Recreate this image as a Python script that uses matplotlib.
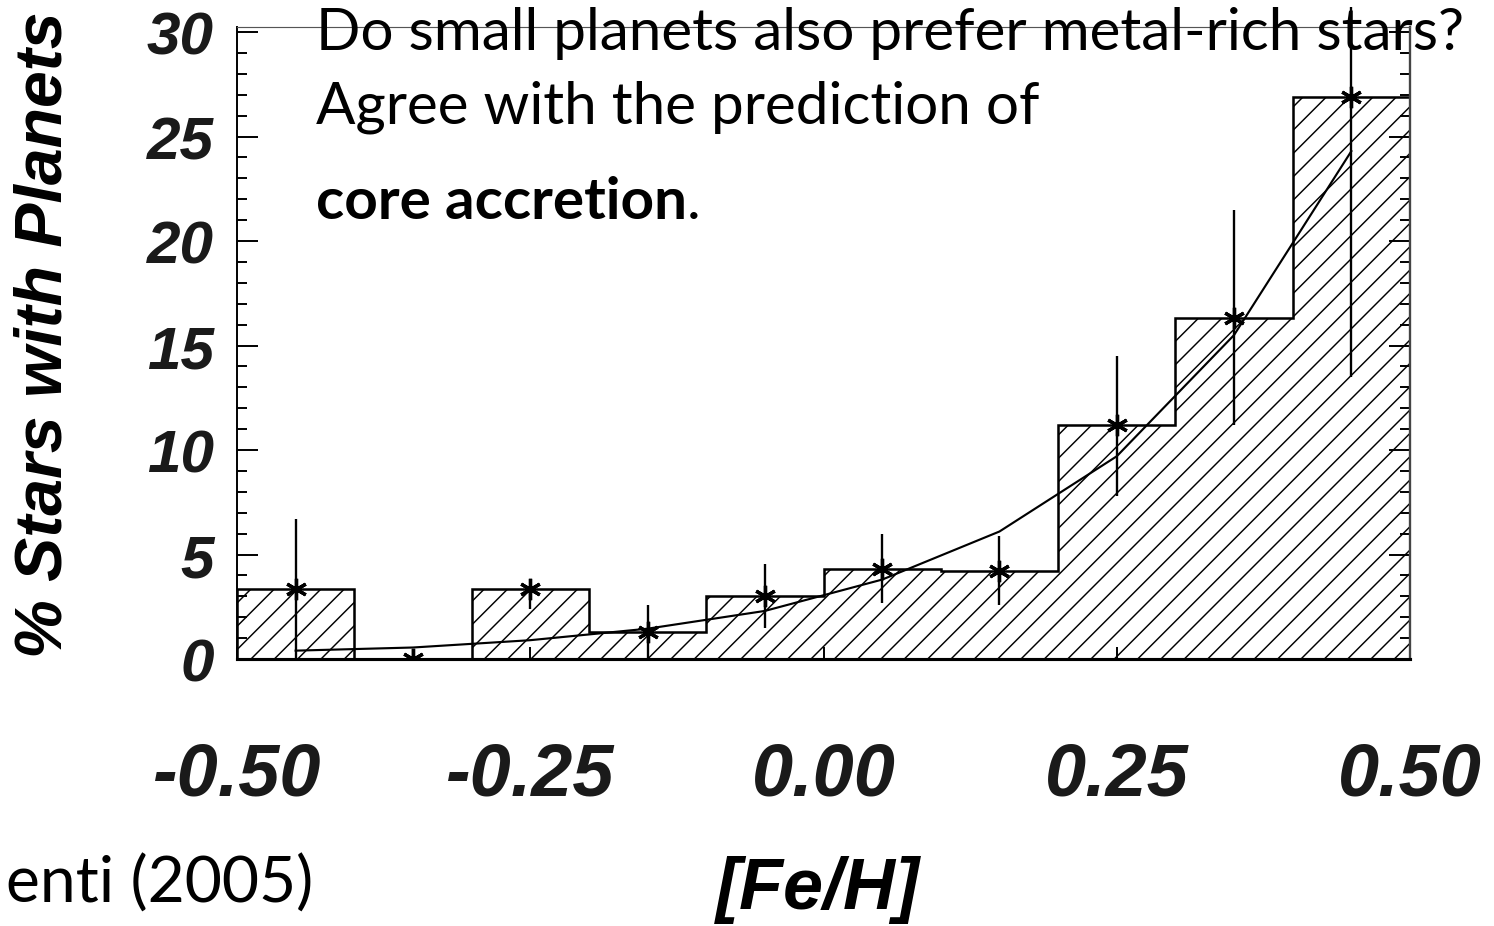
import matplotlib.pyplot as plt
import numpy as np

# fonts: Arial-like for the plot, Lato for the slide text
plt.rcParams['font.family'] = ['Liberation Sans', 'DejaVu Sans']
plt.rcParams['hatch.linewidth'] = 0.75

# metallicity bins
bin_edges = [-0.5, -0.4, -0.3, -0.2, -0.1, 0.0, 0.1, 0.2, 0.3, 0.4, 0.5]
bin_centers = [-0.45, -0.35, -0.25, -0.15, -0.05, 0.05, 0.15, 0.25, 0.35, 0.45]

# percentage of stars with planets per bin, and its errors
pct_planets = [3.35, 0.0, 3.35, 1.3, 3.0, 4.3, 4.2, 11.2, 16.3, 26.9]
err_low = [3.35, 0.0, 0.95, 1.3, 1.5, 1.6, 1.6, 3.4, 5.1, 13.4]
err_high = [3.35, 0.5, 0.0, 1.3, 1.55, 1.7, 1.7, 3.3, 5.2, 4.3]

# fitted probability curve at the bin centres
fit_curve = [0.4, 0.55, 0.9, 1.45, 2.3, 3.8, 6.1, 9.7, 15.5, 24.3]

x_ticks = [-0.5, -0.25, 0.0, 0.25, 0.5]
x_ticklabels = ['-0.50', '-0.25', '0.00', '0.25', '0.50']
y_ticks = [0, 5, 10, 15, 20, 25, 30]

W, H, DPI = 1494, 927, 140
fig = plt.figure(figsize=(W / DPI, H / DPI), dpi=DPI)
ax = fig.add_axes([237 / W, 1 - 660 / H, 1173 / W, 632 / H])

# hatched histogram with step outline
ax.stairs(pct_planets, bin_edges, fill=True, facecolor='none',
          edgecolor='black', hatch='//', linewidth=1.3)

# fit line
ax.plot(bin_centers, fit_curve, color='black', linewidth=1.1)

# error bars (the last one runs past the top of the frame)
lo = np.array(pct_planets) - np.array(err_low)
hi = np.array(pct_planets) + np.array(err_high)
ax.vlines(bin_centers, lo, hi, color='black', linewidth=1.2, clip_on=False)
ax.plot(bin_centers, pct_planets, linestyle='none', marker=(6, 2, 0),
        markersize=11, markeredgewidth=1.7, color='black')

ax.set_xlim(-0.5, 0.5)
ax.set_ylim(0, 30.24)

ax.set_xticks(x_ticks)
ax.set_xticklabels(x_ticklabels)
ax.set_yticks(y_ticks)
ax.set_yticks(np.arange(0, 31, 1), minor=True)

tick_font = dict(fontweight='bold', fontstyle='italic', color='#1a1a1a')
for lab in ax.get_xticklabels():
    lab.set_fontsize(38)
    lab.set(**tick_font)
for lab in ax.get_yticklabels():
    lab.set_fontsize(31)
    lab.set(**tick_font)

ax.tick_params(axis='x', which='major', direction='in', length=6, width=1.0,
               pad=42, top=False)
ax.tick_params(axis='x', which='minor', bottom=False, top=False)
ax.tick_params(axis='y', which='major', direction='in', length=11, width=1.0,
               pad=12, left=True, right=True)
ax.tick_params(axis='y', which='minor', direction='in', length=5, width=1.0,
               left=True, right=True)

ax.spines['bottom'].set_linewidth(1.6)
ax.spines['left'].set_linewidth(1.0)
ax.spines['right'].set_linewidth(1.2)
ax.spines['right'].set_color('#444444')
ax.spines['top'].set_linewidth(0.6)
ax.spines['top'].set_color('#555555')

ax.set_ylabel('% Stars with Planets', fontsize=34, fontweight='bold',
              fontstyle='italic', va='center')
ax.yaxis.set_label_coords(-0.164, 0.514)
ax.set_xlabel('[Fe/H]', fontsize=37, fontweight='bold', fontstyle='italic')
ax.xaxis.set_label_coords(0.495, -0.31)

# slide text
slide_font = ['Lato', 'DejaVu Sans']
fig.text(316 / W, 1 - 50 / H, 'Do small planets also prefer metal-rich stars?',
         family=slide_font, fontsize=30, va='baseline', ha='left')
fig.text(316 / W, 1 - 123 / H, 'Agree with the prediction of',
         family=slide_font, fontsize=30, va='baseline', ha='left')
core = fig.text(316 / W, 1 - 219 / H, 'core accretion',
                family=slide_font, fontsize=30, fontweight='bold',
                va='baseline', ha='left')
ax.annotate('.', xy=(1, 0), xycoords=core, va='bottom', ha='left',
            family=slide_font, fontsize=30, annotation_clip=False)
fig.text(313 / W, 1 - 903 / H, 'enti (2005)', family=slide_font, fontsize=33,
         va='baseline', ha='right')

fig.savefig('out.png', dpi=DPI)
plt.close(fig)
